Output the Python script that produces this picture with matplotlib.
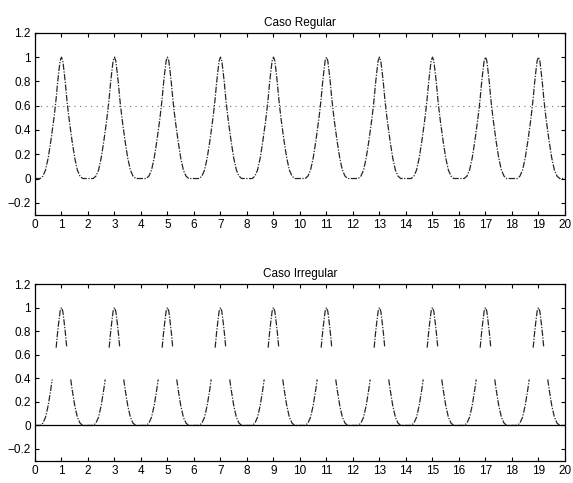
import numpy as np
import matplotlib

matplotlib.use('Agg')
from matplotlib import pyplot as plt

# picos (x) e perfil de um pulso
centers = [1, 3, 5, 7, 9, 11, 13, 15, 17, 19]
offsets = [-0.8, -0.7, -0.6, -0.5, -0.45, -0.4, -0.35, -0.3, -0.25, -0.2, -0.15, -0.1, -0.05, 0.0,
           0.05, 0.1, 0.15, 0.2, 0.25, 0.3, 0.35, 0.4, 0.45, 0.5, 0.6, 0.7, 0.8]
profile = [0.0, 0.02, 0.07, 0.17, 0.24, 0.31, 0.39, 0.47, 0.56, 0.66, 0.78, 0.88, 0.97, 1.0,
           0.97, 0.88, 0.78, 0.66, 0.56, 0.47, 0.39, 0.31, 0.24, 0.17, 0.07, 0.02, 0.0]
# faixa que falta no caso irregular
gap_lo, gap_hi = 0.45, 0.65

xticks = list(range(0, 21))
yticks = [-0.2, 0, 0.2, 0.4, 0.6, 0.8, 1, 1.2]
yticklabels = ['\u22120.2', '0', '0.2', '0.4', '0.6', '0.8', '1', '1.2']
titles = ['Caso Regular', 'Caso Irregular']

plt.rcParams['font.family'] = ['Liberation Sans', 'DejaVu Sans']

x = [0.0]
y = [0.0]
for c in centers:
    x += [c + o for o in offsets]
    y += profile
x.append(20.0)
y.append(0.0)
x = np.array(x)
y = np.array(y)
y_irr = np.where((y > gap_lo) & (y < gap_hi), np.nan, y)

fig = plt.figure(figsize=(5.73, 4.83), dpi=100)
ax1 = fig.add_axes([0.061, 0.555, 0.925, 0.377])
ax2 = fig.add_axes([0.061, 0.046, 0.925, 0.366])

ls = (0, (5, 1.2, 1, 1.2))
ax1.plot(x, y, color='0.15', lw=0.9, linestyle=ls)
ax1.axhline(0.6, color='0.45', lw=0.8, linestyle=(0, (1, 4)))
ax2.plot(x, y_irr, color='0.15', lw=0.9, linestyle=ls)
ax2.axhline(0, color='black', lw=0.9)

for ax, t in zip([ax1, ax2], titles):
    ax.set_xlim(0, 20)
    ax.set_ylim(-0.3, 1.2)
    ax.set_xticks(xticks)
    ax.set_yticks(yticks)
    ax.set_yticklabels(yticklabels)
    ax.tick_params(direction='in', top=True, right=True, labelsize=8.5, length=3, width=0.8, pad=3)
    ax.set_title(t, fontsize=8.5, pad=5)
    for s in ax.spines.values():
        s.set_linewidth(0.9)

fig.savefig('out.png', dpi=100)
plt.close(fig)
